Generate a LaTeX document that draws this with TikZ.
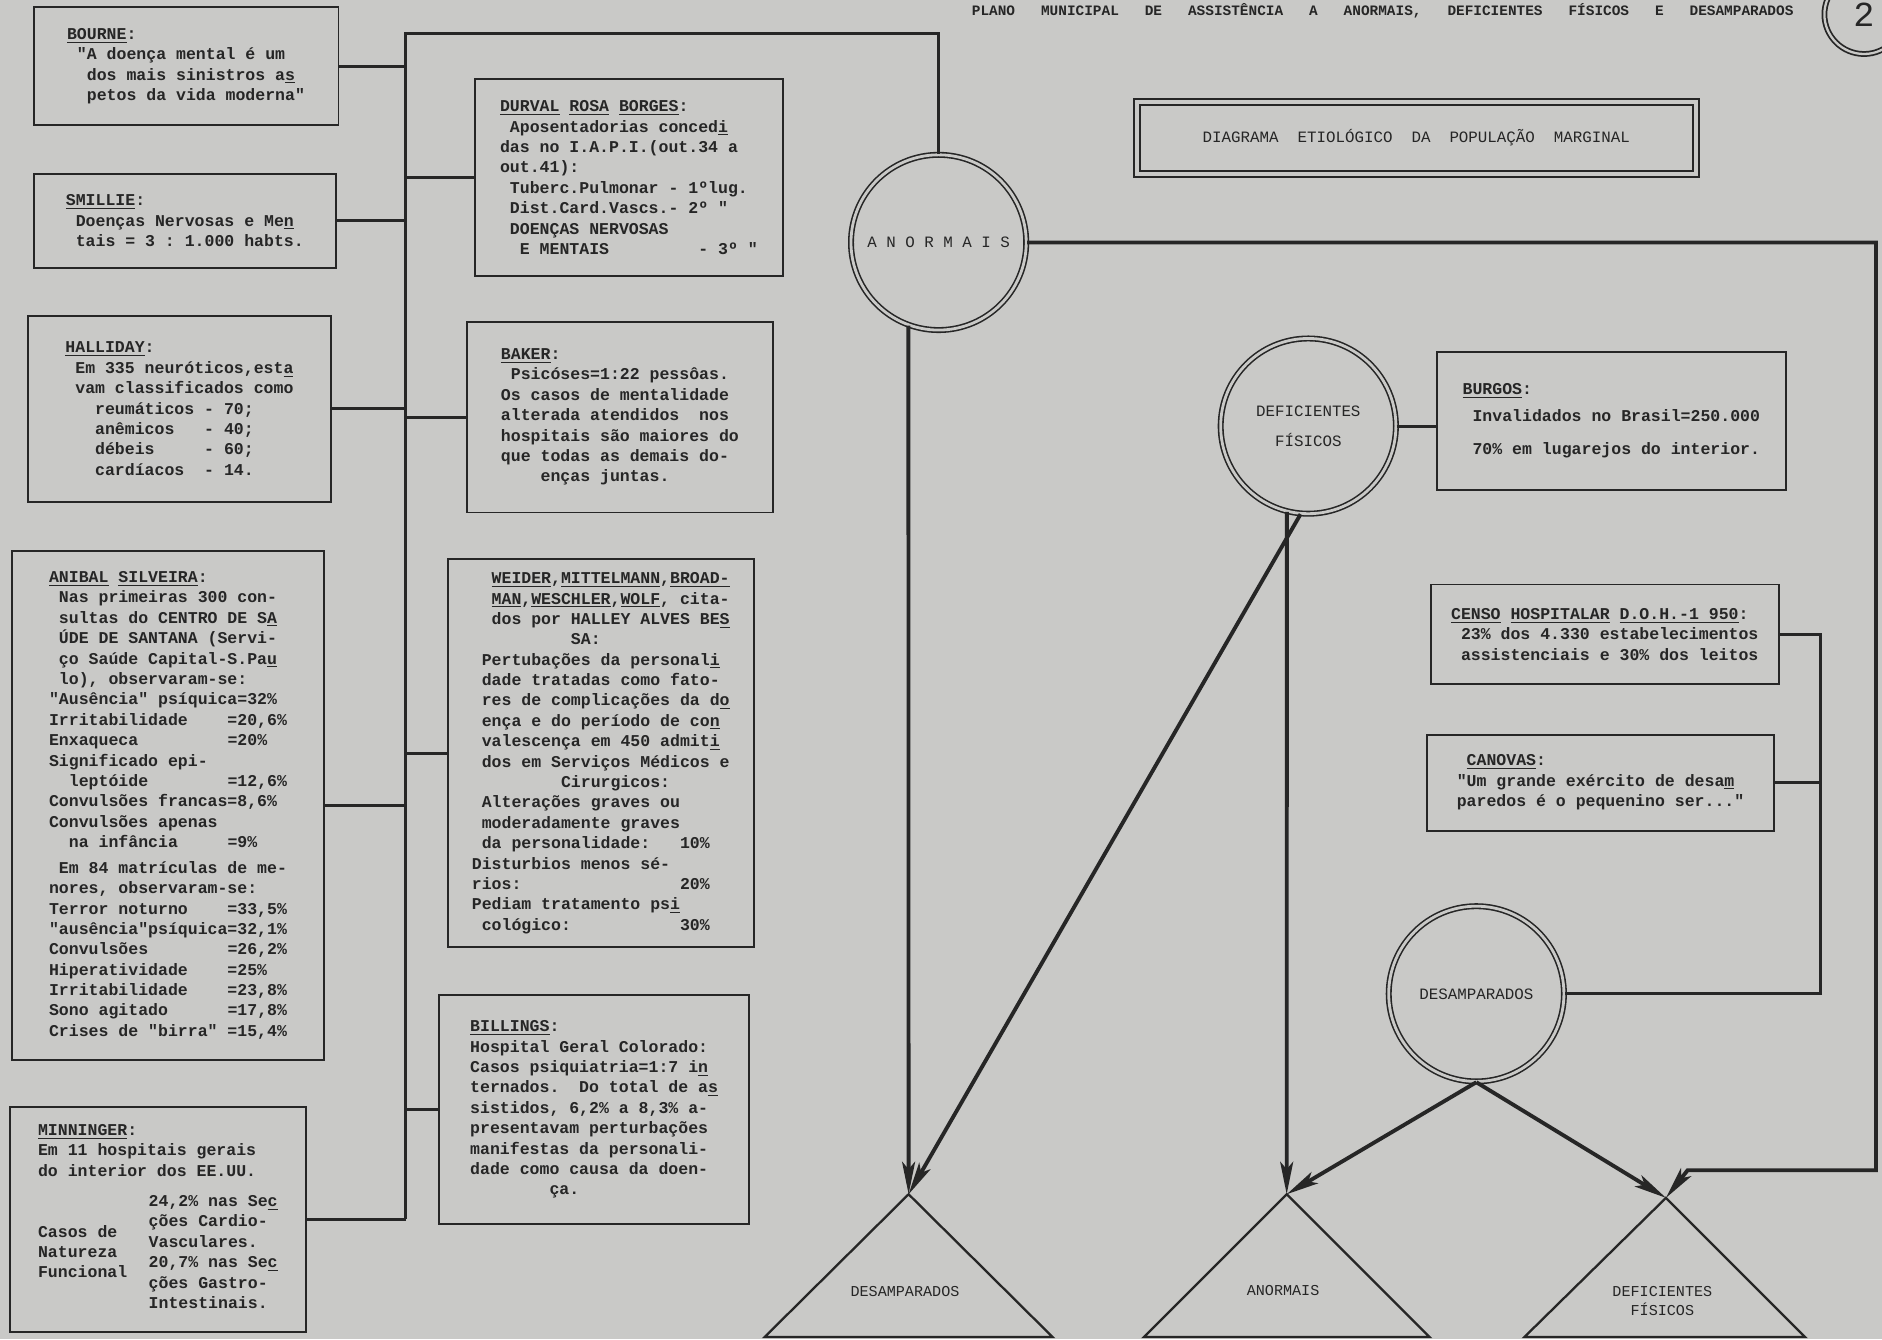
\documentclass[tikz,border=0pt]{standalone}
\usepackage{fontspec}
\setmainfont{Liberation Mono}
\usetikzlibrary{arrows.meta}

\definecolor{paper}{RGB}{201,201,199}
\definecolor{ink}{RGB}{38,38,38}

\newlength{\charw}
\setlength{\charw}{5.64pt}
\newcommand{\pad}[1]{\hspace*{#1\charw}}
\newcommand{\qt}{\textquotedbl}

\tikzset{
  srcbox/.style 2 args={draw=ink, line width=1.1pt, align=left, inner sep=0pt, text=ink,
    minimum width=#1*0.024cm, minimum height=#2*0.024cm,
    font=\fontsize{9.4}{11.6}\selectfont\bfseries\frenchspacing},
  ring/.style={draw=ink, circle, double=paper, double distance=1.6pt, line width=0.9pt,
    minimum size=146*0.024cm, align=center, text=ink, inner sep=0pt,
    font=\fontsize{9}{11}\selectfont},
  heading/.style={text=ink, inner sep=0pt, font=\fontsize{8.2}{10}\selectfont\bfseries},
  titlebox/.style={draw=ink, double=paper, double distance=2.4pt, line width=1pt,
    text=ink, font=\fontsize{9}{11}\selectfont},
  trilabel/.style={text=ink, align=center, inner sep=0pt, font=\fontsize{8.6}{10.5}\selectfont},
  link/.style={draw=ink, line width=1.7pt},
  flow/.style={draw=ink, line width=2.2pt, -{Stealth[length=6.5mm, width=2.6mm, inset=1.5mm]}},
  tri/.style={draw=ink, line width=1.3pt, line join=miter},
}

\begin{document}
\begin{tikzpicture}[x=0.024cm, y=-0.024cm]
\fill[paper] (0,0) rectangle (1568,1116);
\useasboundingbox (0,0) rectangle (1568,1116);

\node[heading] (plano) at (1152,9) {PLANO~~~MUNICIPAL~~~DE~~~ASSISTÊNCIA~~~A~~~ANORMAIS,~~~DEFICIENTES~~~FÍSICOS~~~E~~~DESAMPARADOS};
\node[draw=ink, circle, double=paper, double distance=1.3pt, line width=1pt, minimum size=66*0.024cm,
  text=ink, font=\fontsize{20}{20}\selectfont] (folha) at (1553,12) {2};
\node[titlebox, minimum width=466*0.024cm, minimum height=60*0.024cm] (diagrama) at (1180,115)
  {DIAGRAMA~~ETIOLÓGICO~~DA~~POPULAÇÃO~~MARGINAL};

% left column
\node[srcbox={254}{98}] (bourne) at (155,55) {\underline{BOURNE}:\\
\pad{1}\qt A doença mental é um\\
\pad{2}dos mais sinistros a\underline{s}\\
\pad{2}petos da vida moderna\qt};
\node[srcbox={252}{78}] (smillie) at (154,184) {\underline{SMILLIE}:\\
\pad{1}Doenças Nervosas e Me\underline{n}\\
\pad{1}tais = 3 : 1.000 habts.};
\node[srcbox={253}{155}] (halliday) at (149.5,340.5) {\underline{HALLIDAY}:\\
\pad{1}Em 335 neuróticos,est\underline{a}\\
\pad{1}vam classificados como\\
\pad{3}reumáticos - 70;\\
\pad{3}anêmicos~~~- 40;\\
\pad{3}débeis~~~~~- 60;\\
\pad{3}cardíacos~~- 14.};
\node[srcbox={260}{424}] (anibal) at (140,671) {\underline{ANIBAL} \underline{SILVEIRA}:\\
\pad{1}Nas primeiras 300 con-\\
\pad{1}sultas do CENTRO DE S\underline{A}\\
\pad{1}ÚDE DE SANTANA (Servi-\\
\pad{1}ço Saúde Capital-S.Pa\underline{u}\\
\pad{1}lo), observaram-se:\\
\qt Ausência\qt{} psíquica=32\%\\
Irritabilidade~~~~=20,6\%\\
Enxaqueca~~~~~~~~~=20\%\\
Significado epi-\\
\pad{2}leptóide~~~~~~~~=12,6\%\\
Convulsões francas=8,6\%\\
Convulsões apenas\\
\pad{2}na infância~~~~~=9\%\\[3pt]
\pad{1}Em 84 matrículas de me-\\
nores, observaram-se:\\
Terror noturno~~~~=33,5\%\\
\qt ausência\qt psíquica=32,1\%\\
Convulsões~~~~~~~~=26,2\%\\
Hiperatividade~~~~=25\%\\
Irritabilidade~~~~=23,8\%\\
Sono agitado~~~~~~=17,8\%\\
Crises de \qt birra\qt{} =15,4\%};
\node[srcbox={247}{188}] (minninger) at (131.5,1016) {\underline{MINNINGER}:\\
Em 11 hospitais gerais\\
do interior dos EE.UU.\\[8pt]
\begin{tabular}{@{}l@{\hspace{1.3em}}l@{}}
\begin{tabular}{@{}l@{}}Casos de\\Natureza\\Funcional\end{tabular} &
\begin{tabular}{@{}l@{}}24,2\% nas Se\underline{c}\\ções Cardio-\\Vasculares.\\20,7\% nas Se\underline{c}\\ções Gastro-\\Intestinais.\end{tabular}
\end{tabular}};

% middle column
\node[srcbox={256}{164}] (durval) at (524,148) {\underline{DURVAL} \underline{ROSA} \underline{BORGES}:\\
\pad{1}Aposentadorias conced\underline{i}\\
das no I.A.P.I.(out.34 a\\
out.41):\\
\pad{1}Tuberc.Pulmonar - 1ºlug.\\
\pad{1}Dist.Card.Vascs.- 2º \qt\\
\pad{1}DOENÇAS NERVOSAS\\
\pad{2}E MENTAIS~~~~~~~~~- 3º \qt};
\node[srcbox={255}{159}] (baker) at (516.5,347.5) {\underline{BAKER}:\\
\pad{1}Psicóses=1:22 pessôas.\\
Os casos de mentalidade\\
alterada atendidos~ nos\\
hospitais são maiores do\\
que todas as demais do-\\
\pad{4}enças juntas.};
\node[srcbox={255}{323}] (weider) at (500.5,627.5) {\pad{2}\underline{WEIDER},\underline{MITTELMANN},\underline{BROAD-}\\
\pad{2}\underline{MAN},\underline{WESCHLER},\underline{WOLF}, cita-\\
\pad{2}dos por HALLEY ALVES BE\underline{S}\\
\pad{10}SA:\\
\pad{1}Pertubações da personal\underline{i}\\
\pad{1}dade tratadas como fato-\\
\pad{1}res de complicações da d\underline{o}\\
\pad{1}ença e do período de co\underline{n}\\
\pad{1}valescença em 450 admit\underline{i}\\
\pad{1}dos em Serviços Médicos e\\
\pad{9}Cirurgicos:\\
\pad{1}Alterações graves ou\\
\pad{1}moderadamente graves\\
\pad{1}da personalidade:~~~10\%\\
Disturbios menos sé-\\
rios:~~~~~~~~~~~~~~~~20\%\\
Pediam tratamento ps\underline{i}\\
\pad{1}cológico:~~~~~~~~~~~30\%};
\node[srcbox={258}{191}] (billings) at (495,924.5) {\underline{BILLINGS}:\\
Hospital Geral Colorado:\\
Casos psiquiatria=1:7 i\underline{n}\\
ternados.~ Do total de a\underline{s}\\
sistidos, 6,2\% a 8,3\% a-\\
presentavam perturbações\\
manifestas da personali-\\
dade como causa da doen-\\
\pad{8}ça.};

% right side
\node[srcbox={291}{115}] (burgos) at (1342.5,350.5) {\underline{BURGOS}:\\[4pt]
\pad{1}Invalidados no Brasil=250.000\\[7pt]
\pad{1}70\% em lugarejos do interior.};
\node[srcbox={290}{83}] (censo) at (1337,528.5) {\underline{CENSO} \underline{HOSPITALAR} \underline{D.O.H.-1 950}:\\
\pad{1}23\% dos 4.330 estabelecimentos\\
\pad{1}assistenciais e 30\% dos leitos};
\node[srcbox={289}{80}] (canovas) at (1333.5,652) {\pad{1}\underline{CANOVAS}:\\
\qt Um grande exército de desa\underline{m}\\
paredos é o pequenino ser...\qt};

\node[ring] (anormais) at (782,202) {A N O R M A I S};
\node[ring] (defc) at (1090,355) {DEFICIENTES\\[6pt]FÍSICOS};
\node[ring] (desc) at (1230,828) {DESAMPARADOS};

\coordinate (tdes) at (757,995);
\coordinate (tano) at (1072,995);
\coordinate (tdef) at (1388,998);
\draw[tri] (tdes) -- ++(-120,119) -- ++(240,0) -- cycle;
\draw[tri] (tano) -- ++(-119,119) -- ++(238,0) -- cycle;
\draw[tri] (tdef) -- ++(-118,116) -- ++(234,0) -- cycle;
\node[trilabel] (ldes) at (754,1076) {DESAMPARADOS};
\node[trilabel] (lano) at (1069,1075) {ANORMAIS};
\node[trilabel] (ldef) at (1385,1084) {DEFICIENTES\\FÍSICOS};

% bus lines
\coordinate (bustop) at (338,28);
\coordinate (topturn) at (782,28);
\draw[link] (minninger.east -| bustop) -- (bustop) -- (topturn) -- (anormais.north);
\foreach \src in {bourne,smillie,halliday,anibal,minninger}
  \draw[link] (\src.east) -- (\src.east -| bustop);
\foreach \src in {durval,baker,weider,billings}
  \draw[link] (\src.west) -- (\src.west -| bustop);

\coordinate (rbus) at (1517,828);
\draw[link] (censo.east) -- (censo.east -| rbus) -- (rbus) -- (desc.east);
\draw[link] (canovas.east) -- (canovas.east -| rbus);
\draw[link] (defc.east) -- (defc.east -| burgos.west);

\coordinate (etop) at (1563,202);
\coordinate (ebot) at (1563,975);
\coordinate (eturn) at (1406,975);
\draw[flow] (anormais.east) -- (etop) -- (ebot) -- (eturn) -- (tdef);

\draw[flow] (anormais.250) -- (tdes);
\draw[flow] (defc.265) -- (tdes);
\draw[flow] (defc.256) -- (tano);
\draw[flow] (desc.south) -- (tano);
\draw[flow] (desc.south) -- (tdef);
\end{tikzpicture}
\end{document}
